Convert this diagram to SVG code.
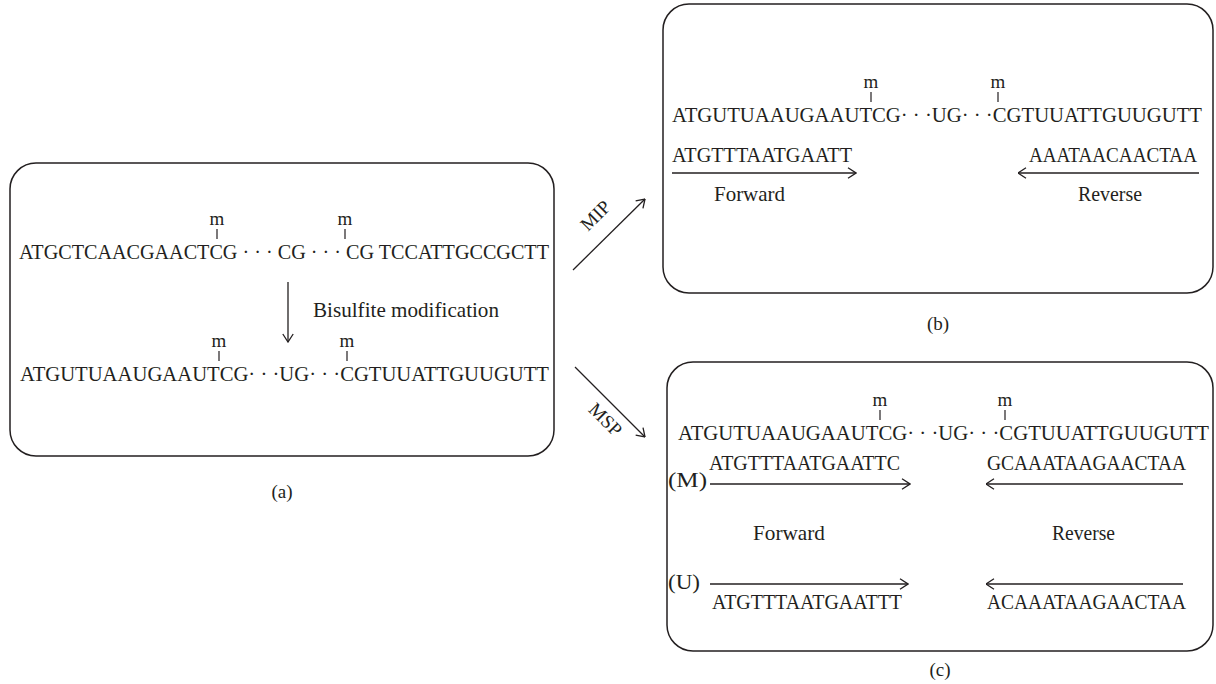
<svg xmlns="http://www.w3.org/2000/svg" width="1216" height="684" viewBox="0 0 1216 684">
<style>
text{font-family:"Liberation Serif","Times New Roman",serif;fill:#231f20}
.seq{font-size:20.5px}
.lbl{font-size:21px}
.m{font-size:19px;text-anchor:middle}
.cap{font-size:19px;text-anchor:middle}
.box{fill:none;stroke:#231f20;stroke-width:1.5}
.tick{stroke:#231f20;stroke-width:1.2}
.arr{stroke:#231f20;stroke-width:1.3;fill:none;marker-end:url(#ah)}
</style>
<defs>
<marker id="ah" viewBox="0 0 10 12" refX="9.5" refY="6" markerWidth="10" markerHeight="12" markerUnits="userSpaceOnUse" orient="auto">
<path d="M1.5,0.8 L9.5,6 L1.5,11.2" fill="none" stroke="#231f20" stroke-width="1.3"/>
</marker>
</defs>
<rect width="1216" height="684" fill="#fff"/>

<g id="panel-a">
<rect class="box" x="10" y="163" width="544" height="293" rx="26"/>
<text class="m" x="217" y="225">m</text>
<line class="tick" x1="217" y1="229" x2="217" y2="239"/>
<text class="m" x="345" y="225">m</text>
<line class="tick" x1="345" y1="229" x2="345" y2="239"/>
<text class="seq" x="19" y="259" textLength="530" lengthAdjust="spacingAndGlyphs">ATGCTCAACGAACTCG · · · CG · · · CG TCCATTGCCGCTT</text>
<text class="lbl" x="313" y="317" textLength="186" lengthAdjust="spacingAndGlyphs">Bisulfite modification</text>
<text class="m" x="219" y="347">m</text>
<line class="tick" x1="219" y1="351" x2="219" y2="361"/>
<text class="m" x="347" y="347">m</text>
<line class="tick" x1="347" y1="351" x2="347" y2="361"/>
<text class="seq" x="20" y="381" textLength="529" lengthAdjust="spacingAndGlyphs">ATGUTUAAUGAAUTCG· · ·UG· · ·CGTUUATTGUUGUTT</text>
<text class="cap" x="282" y="498">(a)</text>
</g>

<g id="panel-b">
<rect class="box" x="663" y="4" width="550" height="289" rx="26"/>
<text class="m" x="871" y="88">m</text>
<line class="tick" x1="871" y1="92" x2="871" y2="102"/>
<text class="m" x="998" y="88">m</text>
<line class="tick" x1="998" y1="92" x2="998" y2="102"/>
<text class="seq" x="672" y="122" textLength="530" lengthAdjust="spacingAndGlyphs">ATGUTUAAUGAAUTCG· · ·UG· · ·CGTUUATTGUUGUTT</text>
<text class="seq" x="672" y="162" textLength="180" lengthAdjust="spacingAndGlyphs">ATGTTTAATGAATT</text>
<text class="seq" x="1029" y="162" textLength="168" lengthAdjust="spacingAndGlyphs">AAATAACAACTAA</text>
<text class="lbl" x="714" y="201" textLength="71" lengthAdjust="spacingAndGlyphs">Forward</text>
<text class="lbl" x="1078" y="201" textLength="64" lengthAdjust="spacingAndGlyphs">Reverse</text>
<text class="cap" x="938" y="330">(b)</text>
</g>

<g id="panel-c">
<rect class="box" x="667" y="362" width="546" height="289" rx="26"/>
<text class="m" x="880" y="406">m</text>
<line class="tick" x1="880" y1="410" x2="880" y2="420"/>
<text class="m" x="1005" y="406">m</text>
<line class="tick" x1="1005" y1="410" x2="1005" y2="420"/>
<text class="seq" x="678" y="440" textLength="531" lengthAdjust="spacingAndGlyphs">ATGUTUAAUGAAUTCG· · ·UG· · ·CGTUUATTGUUGUTT</text>
<text class="seq" x="709" y="470" textLength="191" lengthAdjust="spacingAndGlyphs">ATGTTTAATGAATTC</text>
<text class="seq" x="987" y="470" textLength="199" lengthAdjust="spacingAndGlyphs">GCAAATAAGAACTAA</text>
<text class="lbl" x="668" y="487" textLength="39" lengthAdjust="spacingAndGlyphs">(M)</text>
<text class="lbl" x="753" y="540" textLength="72" lengthAdjust="spacingAndGlyphs">Forward</text>
<text class="lbl" x="1052" y="540" textLength="63" lengthAdjust="spacingAndGlyphs">Reverse</text>
<text class="lbl" x="668" y="589" textLength="32" lengthAdjust="spacingAndGlyphs">(U)</text>
<text class="seq" x="712" y="609" textLength="190" lengthAdjust="spacingAndGlyphs">ATGTTTAATGAATTT</text>
<text class="seq" x="987" y="609" textLength="199" lengthAdjust="spacingAndGlyphs">ACAAATAAGAACTAA</text>
<text class="cap" x="940" y="676">(c)</text>
</g>

<g id="labels">
<text class="cap" transform="translate(600,220) rotate(-45)">MIP</text>
<text class="cap" transform="translate(601,424) rotate(45)">MSP</text>
</g>

<g id="connectors">
<line class="arr" x1="288" y1="282" x2="288" y2="342"/>
<line class="arr" x1="573" y1="270" x2="645" y2="199"/>
<line class="arr" x1="575" y1="367" x2="645" y2="437"/>
<line class="arr" x1="672" y1="173" x2="856" y2="173"/>
<line class="arr" x1="1199" y1="173" x2="1018" y2="173"/>
<line class="arr" x1="710" y1="484" x2="910" y2="484"/>
<line class="arr" x1="1183" y1="484" x2="986" y2="484"/>
<line class="arr" x1="710" y1="584" x2="908" y2="584"/>
<line class="arr" x1="1183" y1="584" x2="986" y2="584"/>
</g>
</svg>
